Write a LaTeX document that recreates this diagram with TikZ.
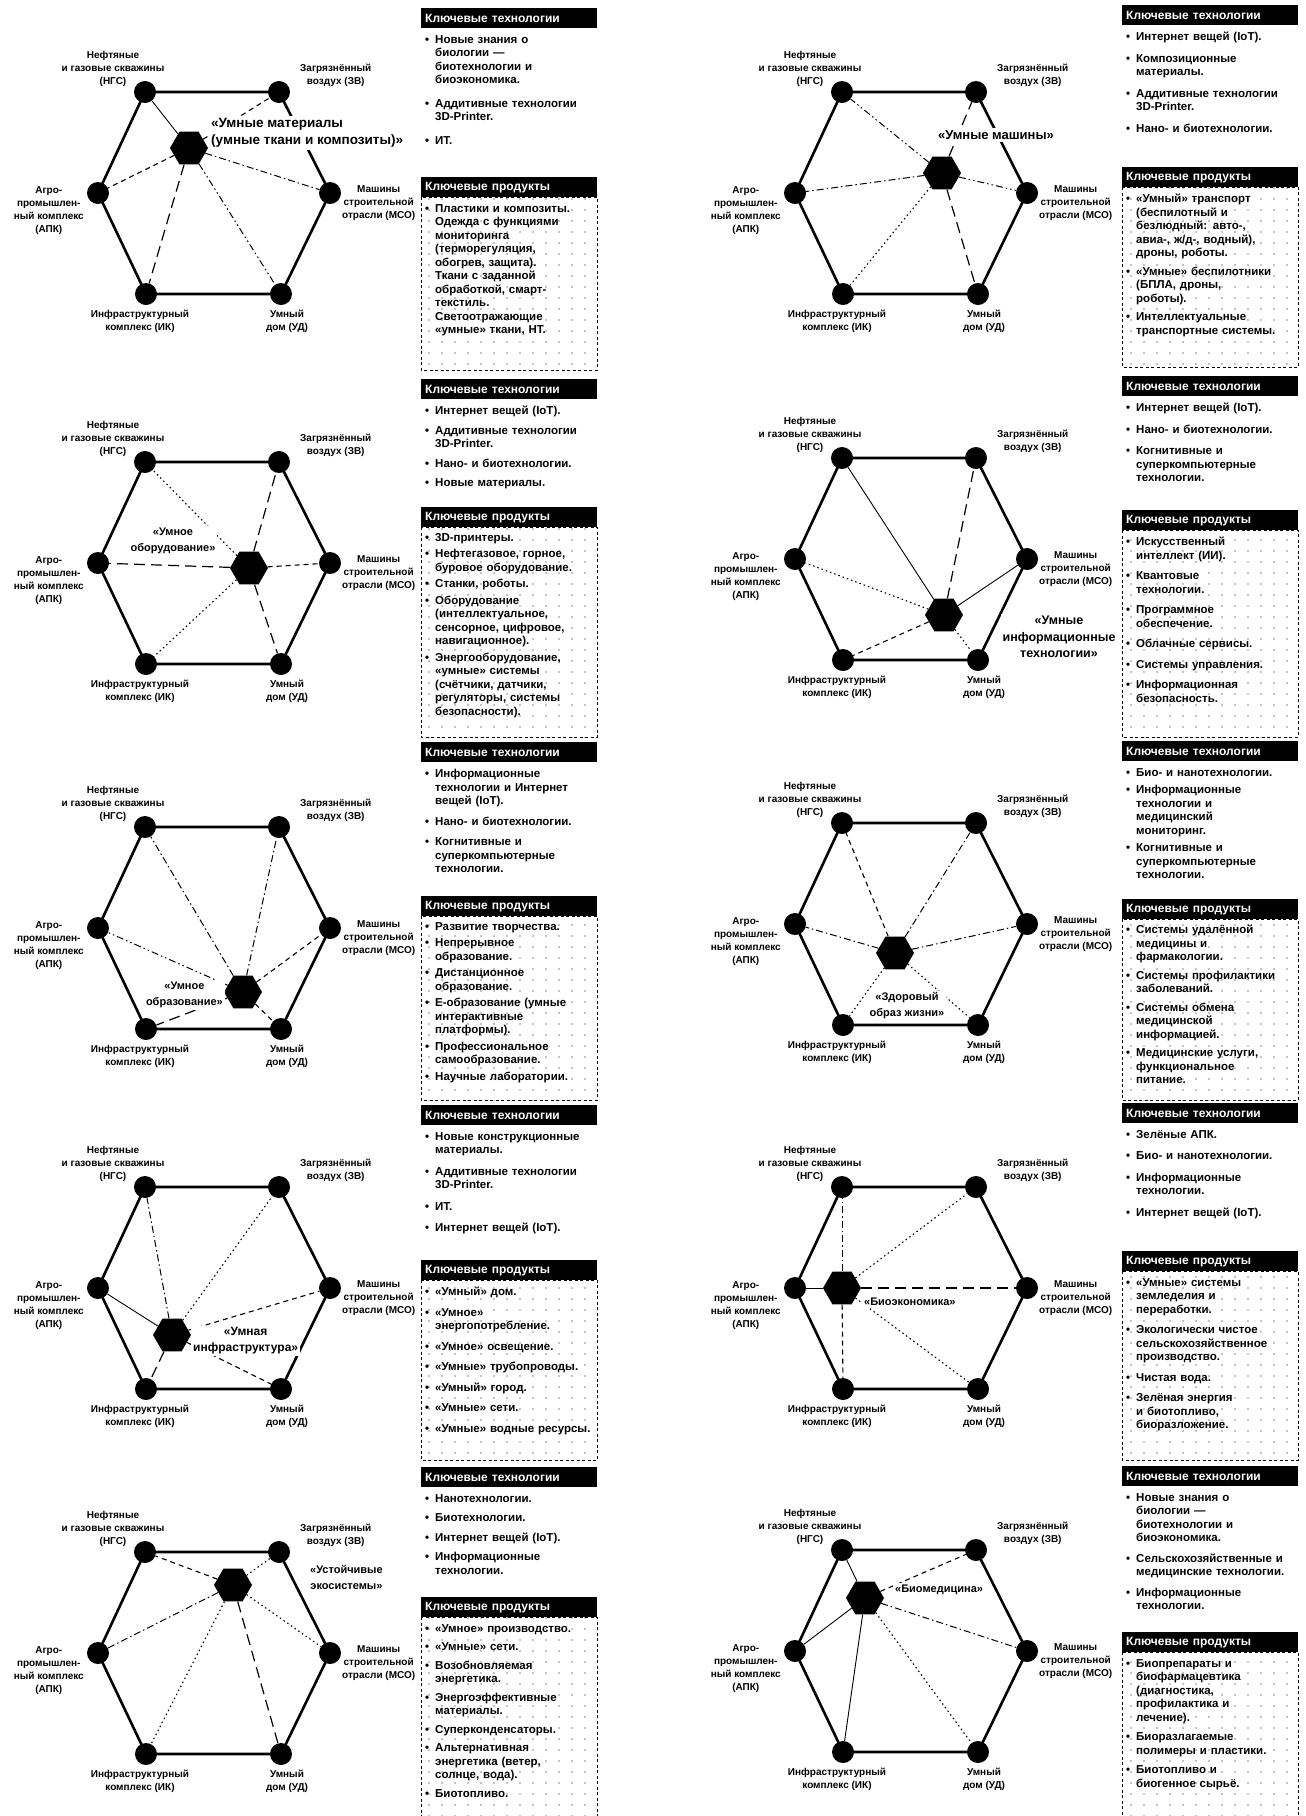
\documentclass[tikz,border=0pt]{standalone}
\usepackage{fontspec}
\setmainfont{Liberation Sans}
\usetikzlibrary{shapes.geometric,patterns}
\pgfdeclarelayer{paper}
\pgfdeclarelayer{bg}
\pgfsetlayers{paper,bg,main}
\pgfdeclarepatternformonly{sparsedots}{\pgfqpoint{-1pt}{-1pt}}{\pgfqpoint{1pt}{1pt}}{\pgfqpoint{13pt}{11pt}}{\pgfpathcircle{\pgfqpoint{0pt}{0pt}}{0.55pt}\pgfusepath{fill}}

\newcommand\itm[1]{\hangindent=10pt\hangafter=1\noindent\makebox[10pt][l]{•}#1\par}
\newcommand\igap[1]{\vspace{#1}}

\tikzset{
  vtx/.style={circle,fill=black,minimum size=22pt,inner sep=0pt},
  hubshape/.style={regular polygon,regular polygon sides=6,fill=black,minimum size=38pt,inner sep=0pt},
  rim/.style={line width=2.6pt,line join=round},
  vlbl/.style={font=\fontsize{10}{13}\selectfont\bfseries,align=center,inner sep=1pt},
  hublbl/.style={font=\fontsize{11}{16}\selectfont\bfseries,fill=white,inner sep=2pt,align=center},
  hubbig/.style={font=\fontsize{13}{17}\selectfont\bfseries},
  hdrbox/.style={anchor=north west,fill=black,text=white,font=\fontsize{12}{13}\selectfont\bfseries,
    minimum width=176pt,minimum height=20pt,text width=168pt,inner xsep=4pt,inner ysep=2pt,align=left},
  itembox/.style={anchor=north west,text width=168pt,inner xsep=4pt,inner ysep=2pt,align=left,
    font=\fontsize{11.5}{13.5}\selectfont\bfseries},
  dotbox/.style={line width=1pt,dash pattern=on 3pt off 2.5pt},
  lnsolid/.style={line width=0.9pt},
  lndash/.style={line width=1.1pt,dash pattern=on 5pt off 4pt},
  lnlong/.style={line width=1.2pt,dash pattern=on 11pt off 6pt},
  lndot/.style={line width=1.1pt,dash pattern=on 1.5pt off 3pt},
  lndashdot/.style={line width=1pt,dash pattern=on 7pt off 3pt on 1.5pt off 3pt},
  lndashdotdot/.style={line width=1pt,dash pattern=on 7pt off 3pt on 1.5pt off 3pt on 1.5pt off 3pt}
}

\newcommand\hexpanel[3]{%
\begin{scope}[shift={(#2,#3)}]
  \node[vtx] (#1tl) at (145,92) {};
  \node[vtx] (#1tr) at (279,92) {};
  \node[vtx] (#1r) at (330,193) {};
  \node[vtx] (#1br) at (281,294) {};
  \node[vtx] (#1bl) at (146,294) {};
  \node[vtx] (#1l) at (98,193) {};
  \node[vlbl,anchor=south] (#1tlt) at (113,88) {Нефтяные\\и газовые скважины\\(НГС)};
  \node[vlbl,anchor=south west] (#1trt) at (299,88) {Загрязнённый\\воздух (ЗВ)};
  \node[vlbl,anchor=north west] (#1rt) at (341,184) {Машины\\строительной\\отрасли (МСО)};
  \node[vlbl,anchor=north] (#1brt) at (287,309) {Умный\\дом (УД)};
  \node[vlbl,anchor=north] (#1blt) at (140,309) {Инфраструктурный\\комплекс (ИК)};
  \node[vlbl,anchor=north east] (#1lt) at (85,185) {Агро-\\промышлен-\\ный комплекс\\(АПК)};
  \begin{pgfonlayer}{bg}
    \draw[rim] (#1tl.center) -- (#1tr.center) -- (#1r.center) -- (#1br.center) -- (#1bl.center) -- (#1l.center) -- cycle;
  \end{pgfonlayer}
\end{scope}}

\newcommand\links[8]{%
\begin{pgfonlayer}{bg}
  \draw[#3] (#1) -- (#2tl);
  \draw[#4] (#1) -- (#2tr);
  \draw[#5] (#1) -- (#2r);
  \draw[#6] (#1) -- (#2br);
  \draw[#7] (#1) -- (#2bl);
  \draw[#8] (#1) -- (#2l);
\end{pgfonlayer}}

\newcommand\dotpanel[3]{%
  \fill[pattern=sparsedots] (#1,#2) rectangle (#1+176,#3);
  \draw[dotbox] (#1,#2) rectangle (#1+176,#3);}

\begin{document}
\begin{tikzpicture}[x=1pt,y=-1pt]
\useasboundingbox (0,0) rectangle (1306,1816);
\begin{pgfonlayer}{paper}
  \fill[white] (0,0) rectangle (1306,1816);
\end{pgfonlayer}

% ---------------- hexagon panels ----------------
\hexpanel{a1}{0}{0}
\hexpanel{a2}{0}{370}
\hexpanel{a3}{0}{735}
\hexpanel{a4}{0}{1095}
\hexpanel{a5}{0}{1460}
\hexpanel{b1}{697}{0}
\hexpanel{b2}{697}{366}
\hexpanel{b3}{697}{731}
\hexpanel{b4}{697}{1095}
\hexpanel{b5}{697}{1458}

% ---------------- hubs ----------------
\node[hubshape] (h1) at (189,148) {};
\node[hublbl,font=\fontsize{13.5}{17}\selectfont\bfseries,anchor=west,align=left] (h1t) at (209,133) {«Умные материалы\\(умные ткани и композиты)»};
\links{h1}{a1}{lnsolid}{lndash}{lndashdot}{lndashdotdot}{lnlong}{lndash}

\node[hubshape] (h2) at (942,173) {};
\node[hublbl,hubbig] (h2t) at (996,135) {«Умные машины»};
\links{h2}{b1}{lndashdotdot}{lnlong}{lndashdotdot}{lnlong}{lndot}{lndashdot}

\node[hubshape] (h3) at (249,568) {};
\node[hublbl] (h3t) at (173,541) {«Умное\\оборудование»};
\links{h3}{a2}{lndot}{lnlong}{lndash}{lnlong}{lndot}{lnlong}

\node[hubshape] (h4) at (944,615) {};
\node[hublbl,font=\fontsize{12.5}{16.5}\selectfont\bfseries] (h4t) at (1059,637) {«Умные\\информационные\\технологии»};
\links{h4}{b2}{lnsolid}{lnlong}{lnsolid}{lndot}{lndash}{lndot}

\node[hubshape] (h5) at (243,992) {};
\node[hublbl,anchor=east] (h5t) at (225,995) {«Умное\\образование»};
\links{h5}{a3}{lndashdot}{lndashdot}{lndash}{lndash}{lnlong}{lndashdotdot}

\node[hubshape] (h6) at (895,953) {};
\node[hublbl] (h6t) at (907,1006) {«Здоровый\\образ жизни»};
\links{h6}{b3}{lndash}{lndashdot}{lndashdot}{lndot}{lndot}{lndashdot}

\node[hubshape] (h7) at (172,1335) {};
\node[hublbl,font=\fontsize{12}{16}\selectfont\bfseries,anchor=west] (h7t) at (191,1341) {«Умная\\инфраструктура»};
\links{h7}{a4}{lndashdot}{lndot}{lndash}{lndash}{lnlong}{lnsolid}

\node[hubshape] (h8) at (842,1288) {};
\node[hublbl,anchor=west] (h8t) at (862,1302) {«Биоэкономика»};
\links{h8}{b4}{lndashdot}{lndot}{lnlong}{lndot}{lndash}{lnsolid}

\node[hubshape] (h9) at (233,1585) {};
\node[hublbl,anchor=west] (h9t) at (308,1577) {«Устойчивые\\экосистемы»};
\links{h9}{a5}{lndash}{lndot}{lndot}{lnlong}{lndot}{lndashdot}

\node[hubshape] (h10) at (865,1598) {};
\node[hublbl,anchor=west] (h10t) at (893,1590) {«Биомедицина»};
\links{h10}{b5}{lnsolid}{lndash}{lndashdot}{lndot}{lnsolid}{lnsolid}

% ---------------- left text column ----------------
% row 1
\node[hdrbox] (la1) at (421,8) {Ключевые технологии};
\node[itembox] (lb1) at (421,33) {\itm{Новые знания о\newline биологии —\newline биотехнологии и\newline биоэкономика.}\igap{10pt}\itm{Аддитивные технологии\newline 3D-Printer.}\igap{10pt}\itm{ИТ.}};
\node[hdrbox] (lc1) at (421,177) {Ключевые продукты};
\dotpanel{421}{197}{370}
\node[itembox] (ld1) at (421,202) {\itm{Пластики и композиты.\newline Одежда с функциями\newline мониторинга\newline (терморегуляция,\newline обогрев, защита).\newline Ткани с заданной\newline обработкой, смарт-\newline текстиль.\newline Светоотражающие\newline «умные» ткани, НТ.}};
% row 2
\node[hdrbox] (la2) at (421,379) {Ключевые технологии};
\node[itembox] (lb2) at (421,404) {\itm{Интернет вещей (IoT).}\igap{6pt}\itm{Аддитивные технологии\newline 3D-Printer.}\igap{6pt}\itm{Нано- и биотехнологии.}\igap{6pt}\itm{Новые материалы.}};
\node[hdrbox] (lc2) at (421,507) {Ключевые продукты};
\dotpanel{421}{527}{737}
\node[itembox] (ld2) at (421,531) {\itm{3D-принтеры.}\igap{3pt}\itm{Нефтегазовое, горное,\newline буровое оборудование.}\igap{3pt}\itm{Станки, роботы.}\igap{3pt}\itm{Оборудование\newline (интеллектуальное,\newline сенсорное, цифровое,\newline навигационное).}\igap{3pt}\itm{Энергооборудование,\newline «умные» системы\newline (счётчики, датчики,\newline регуляторы, системы\newline безопасности).}};
% row 3
\node[hdrbox] (la3) at (421,742) {Ключевые технологии};
\node[itembox] (lb3) at (421,767) {\itm{Информационные\newline технологии и Интернет\newline вещей (IoT).}\igap{7pt}\itm{Нано- и биотехнологии.}\igap{7pt}\itm{Когнитивные и\newline суперкомпьютерные\newline технологии.}};
\node[hdrbox] (lc3) at (421,896) {Ключевые продукты};
\dotpanel{421}{916}{1100}
\node[itembox] (ld3) at (421,920) {\itm{Развитие творчества.}\igap{3pt}\itm{Непрерывное\newline образование.}\igap{3pt}\itm{Дистанционное\newline образование.}\igap{3pt}\itm{E-образование (умные\newline интерактивные\newline платформы).}\igap{3pt}\itm{Профессиональное\newline самообразование.}\igap{3pt}\itm{Научные лаборатории.}};
% row 4
\node[hdrbox] (la4) at (421,1105) {Ключевые технологии};
\node[itembox] (lb4) at (421,1130) {\itm{Новые конструкционные\newline материалы.}\igap{8pt}\itm{Аддитивные технологии\newline 3D-Printer.}\igap{8pt}\itm{ИТ.}\igap{8pt}\itm{Интернет вещей (IoT).}};
\node[hdrbox] (lc4) at (421,1260) {Ключевые продукты};
\dotpanel{421}{1280}{1460}
\node[itembox] (ld4) at (421,1285) {\itm{«Умный» дом.}\igap{7pt}\itm{«Умное»\newline энергопотребление.}\igap{7pt}\itm{«Умное» освещение.}\igap{7pt}\itm{«Умные» трубопроводы.}\igap{7pt}\itm{«Умный» город.}\igap{7pt}\itm{«Умные» сети.}\igap{7pt}\itm{«Умные» водные ресурсы.}};
% row 5
\node[hdrbox] (la5) at (421,1467) {Ключевые технологии};
\node[itembox] (lb5) at (421,1492) {\itm{Нанотехнологии.}\igap{6pt}\itm{Биотехнологии.}\igap{6pt}\itm{Интернет вещей (IoT).}\igap{6pt}\itm{Информационные\newline технологии.}};
\node[hdrbox] (lc5) at (421,1597) {Ключевые продукты};
\dotpanel{421}{1617}{1816}
\node[itembox] (ld5) at (421,1622) {\itm{«Умное» производство.}\igap{5pt}\itm{«Умные» сети.}\igap{5pt}\itm{Возобновляемая\newline энергетика.}\igap{5pt}\itm{Энергоэффективные\newline материалы.}\igap{5pt}\itm{Суперконденсаторы.}\igap{5pt}\itm{Альтернативная\newline энергетика (ветер,\newline солнце, вода).}\igap{5pt}\itm{Биотопливо.}};

% ---------------- right text column ----------------
% row 1
\node[hdrbox] (ra1) at (1122,5) {Ключевые технологии};
\node[itembox] (rb1) at (1122,30) {\itm{Интернет вещей (IoT).}\igap{8pt}\itm{Композиционные\newline материалы.}\igap{8pt}\itm{Аддитивные технологии\newline 3D-Printer.}\igap{8pt}\itm{Нано- и биотехнологии.}};
\node[hdrbox] (rc1) at (1122,167) {Ключевые продукты};
\dotpanel{1122}{187}{367}
\node[itembox] (rd1) at (1122,192) {\itm{«Умный» транспорт\newline (беспилотный и\newline безлюдный: авто-,\newline авиа-, ж/д-, водный),\newline дроны, роботы.}\igap{5pt}\itm{«Умные» беспилотники\newline (БПЛА, дроны,\newline роботы).}\igap{5pt}\itm{Интеллектуальные\newline транспортные системы.}};
% row 2
\node[hdrbox] (ra2) at (1122,376) {Ключевые технологии};
\node[itembox] (rb2) at (1122,401) {\itm{Интернет вещей (IoT).}\igap{8pt}\itm{Нано- и биотехнологии.}\igap{8pt}\itm{Когнитивные и\newline суперкомпьютерные\newline технологии.}};
\node[hdrbox] (rc2) at (1122,510) {Ключевые продукты};
\dotpanel{1122}{530}{737}
\node[itembox] (rd2) at (1122,535) {\itm{Искусственный\newline интеллект (ИИ).}\igap{7pt}\itm{Квантовые\newline технологии.}\igap{7pt}\itm{Программное\newline обеспечение.}\igap{7pt}\itm{Облачные сервисы.}\igap{7pt}\itm{Системы управления.}\igap{7pt}\itm{Информационная\newline безопасность.}};
% row 3
\node[hdrbox] (ra3) at (1122,741) {Ключевые технологии};
\node[itembox] (rb3) at (1122,766) {\itm{Био- и нанотехнологии.}\igap{4pt}\itm{Информационные\newline технологии и\newline медицинский\newline мониторинг.}\igap{4pt}\itm{Когнитивные и\newline суперкомпьютерные\newline технологии.}};
\node[hdrbox] (rc3) at (1122,899) {Ключевые продукты};
\dotpanel{1122}{919}{1100}
\node[itembox] (rd3) at (1122,923) {\itm{Системы удалённой\newline медицины и\newline фармакологии.}\igap{5pt}\itm{Системы профилактики\newline заболеваний.}\igap{5pt}\itm{Системы обмена\newline медицинской\newline информацией.}\igap{5pt}\itm{Медицинские услуги,\newline функциональное\newline питание.}};
% row 4
\node[hdrbox] (ra4) at (1122,1103) {Ключевые технологии};
\node[itembox] (rb4) at (1122,1128) {\itm{Зелёные АПК.}\igap{8pt}\itm{Био- и нанотехнологии.}\igap{8pt}\itm{Информационные\newline технологии.}\igap{8pt}\itm{Интернет вещей (IoT).}};
\node[hdrbox] (rc4) at (1122,1251) {Ключевые продукты};
\dotpanel{1122}{1271}{1460}
\node[itembox] (rd4) at (1122,1276) {\itm{«Умные» системы\newline земледелия и\newline переработки.}\igap{7pt}\itm{Экологически чистое\newline сельскохозяйственное\newline производство.}\igap{7pt}\itm{Чистая вода.}\igap{7pt}\itm{Зелёная энергия\newline и биотопливо,\newline биоразложение.}};
% row 5
\node[hdrbox] (ra5) at (1122,1466) {Ключевые технологии};
\node[itembox] (rb5) at (1122,1491) {\itm{Новые знания о\newline биологии —\newline биотехнологии и\newline биоэкономика.}\igap{7pt}\itm{Сельскохозяйственные и\newline медицинские технологии.}\igap{7pt}\itm{Информационные\newline технологии.}};
\node[hdrbox] (rc5) at (1122,1632) {Ключевые продукты};
\dotpanel{1122}{1652}{1816}
\node[itembox] (rd5) at (1122,1657) {\itm{Биопрепараты и\newline биофармацевтика\newline (диагностика,\newline профилактика и\newline лечение).}\igap{6pt}\itm{Биоразлагаемые\newline полимеры и пластики.}\igap{6pt}\itm{Биотопливо и\newline биогенное сырьё.}};
\end{tikzpicture}
\end{document}
